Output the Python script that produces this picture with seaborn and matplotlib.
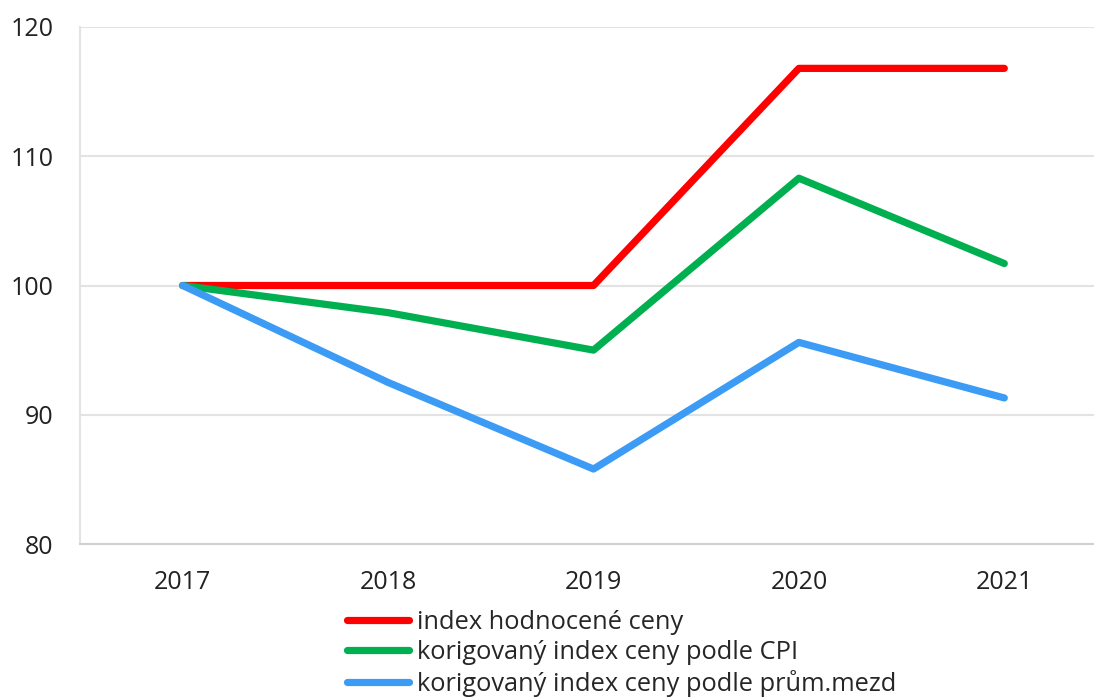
import matplotlib
matplotlib.use("Agg")
import matplotlib.pyplot as plt
import seaborn as sns
import pandas as pd
from matplotlib.lines import Line2D

years = ["2017", "2018", "2019", "2020", "2021"]
index_hodnocene = [100.0, 100.0, 100.0, 116.8, 116.8]
index_cpi = [100.0, 97.9, 95.0, 108.3, 101.7]
index_mzdy = [100.0, 92.5, 85.8, 95.6, 91.3]
series_names = ["index hodnocené ceny",
                "korigovaný index ceny podle CPI",
                "korigovaný index ceny podle prům.mezd"]
colors = ["#FF0000", "#00B050", "#3C9BF5"]
yticks = [80, 90, 100, 110, 120]

df = pd.DataFrame({
    "year": years * 3,
    "value": index_hodnocene + index_cpi + index_mzdy,
    "series": [series_names[0]] * 5 + [series_names[1]] * 5 + [series_names[2]] * 5,
})
df["x"] = df["year"].map({y: i for i, y in enumerate(years)})

sns.set_theme(style="white")
plt.rcParams["font.family"] = ["Open Sans", "DejaVu Sans"]

fig = plt.figure(figsize=(10.94, 6.97), dpi=100)
W, H = 1094, 697
ax = fig.add_axes([80 / W, 1 - 544 / H, (1107 - 80) / W, (544 - 27) / H])

sns.lineplot(data=df, x="x", y="value", hue="series", palette=dict(zip(series_names, colors)),
             linewidth=5.2, ax=ax, legend=False, solid_capstyle="round", sort=False)

ax.set_xlim(-0.5, 4.5)
ax.set_ylim(80, 120)
ax.set_xticks(range(len(years)))
ax.set_xticklabels(years)
ax.set_yticks(yticks)
ax.set_yticklabels([str(v) for v in yticks])
ax.set_xlabel("")
ax.set_ylabel("")
ax.grid(axis="y", color="#E3E3E3", linewidth=1.5)
ax.grid(axis="x", visible=False)
for s in ["top", "right"]:
    ax.spines[s].set_visible(False)
ax.spines["left"].set_color("#E3E3E3")
ax.spines["left"].set_linewidth(1.5)
ax.spines["bottom"].set_color("#D0D0D0")
ax.spines["bottom"].set_linewidth(1.5)
ax.tick_params(axis="both", length=0, labelsize=18, colors="#222222")
ax.tick_params(axis="y", pad=19)
ax.tick_params(axis="x", pad=19)

handles = [Line2D([], [], color=c, linewidth=5.2, solid_capstyle="round") for c in colors]
fig.legend(handles, series_names, loc="upper left", bbox_to_anchor=(347 / W, 1 - 610 / H),
           frameon=False, fontsize=18.3, handlelength=2.45, handletextpad=0.3,
           labelspacing=0.2, borderpad=0, borderaxespad=0)

fig.savefig("out.png", dpi=100)
